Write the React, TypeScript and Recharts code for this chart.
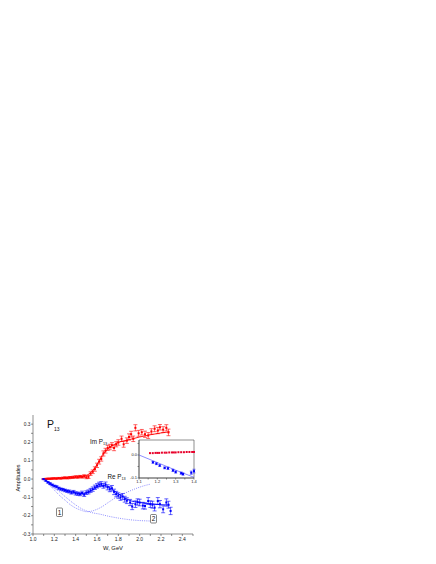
import { ComposedChart, Line, Scatter, ErrorBar, XAxis, YAxis, ReferenceArea } from 'recharts';

// Im P13 data points (W in GeV)
const imW = [
  1.10, 1.12, 1.14, 1.16, 1.18, 1.20, 1.22, 1.24, 1.26, 1.28,
  1.30, 1.32, 1.34, 1.36, 1.38, 1.40, 1.42, 1.44, 1.46, 1.48,
  1.50, 1.52, 1.54, 1.56, 1.58, 1.60, 1.62, 1.64, 1.66, 1.68,
  1.70, 1.72, 1.74, 1.76, 1.78, 1.80,
  1.83, 1.85, 1.88, 1.90, 1.92, 1.94, 1.96, 1.99, 2.02, 2.05,
  2.08, 2.11, 2.14, 2.17, 2.19, 2.22, 2.25, 2.27,
];
const imVal = [
  0, 0.001, 0.002, 0.002, 0.003, 0.004, 0.003, 0.005, 0.004, 0.006,
  0.007, 0.006, 0.008, 0.009, 0.01, 0.012, 0.011, 0.014, 0.012, 0.016,
  0.01, 0.012, 0.03, 0.04, 0.055, 0.075, 0.095, 0.11, 0.14, 0.155,
  0.17, 0.175, 0.185, 0.17, 0.19, 0.2,
  0.22, 0.19, 0.21, 0.23, 0.245, 0.22, 0.28, 0.25, 0.256, 0.245,
  0.238, 0.26, 0.275, 0.265, 0.283, 0.27, 0.28, 0.255,
];
const imErr = [
  0.002, 0.003, 0.003, 0.003, 0.004, 0.003, 0.004, 0.004, 0.004, 0.005,
  0.005, 0.005, 0.006, 0.005, 0.006, 0.006, 0.007, 0.006, 0.007, 0.008,
  0.008, 0.009, 0.01, 0.01, 0.012, 0.012, 0.013, 0.012, 0.014, 0.013,
  0.014, 0.015, 0.014, 0.015, 0.014, 0.015,
  0.015, 0.016, 0.015, 0.017, 0.016, 0.015, 0.017, 0.016, 0.015, 0.017,
  0.016, 0.015, 0.016, 0.017, 0.015, 0.016, 0.017, 0.018,
];

// Re P13 data points
const reW = [
  1.10, 1.12, 1.14, 1.16, 1.18, 1.20, 1.22, 1.24, 1.26, 1.28,
  1.30, 1.32, 1.34, 1.36, 1.38, 1.40, 1.42, 1.44, 1.46, 1.48,
  1.50, 1.52, 1.54, 1.56, 1.58, 1.60, 1.62, 1.64, 1.66, 1.68,
  1.70, 1.72, 1.74, 1.76, 1.78, 1.80, 1.82, 1.84, 1.86, 1.88,
  1.91, 1.93, 1.96, 1.98, 2.00, 2.03, 2.05, 2.08, 2.10, 2.12,
  2.14, 2.17, 2.19, 2.22, 2.25, 2.27, 2.29,
];
const reVal = [
  0, -0.008, -0.018, -0.025, -0.032, -0.038, -0.042, -0.05, -0.055, -0.058,
  -0.062, -0.066, -0.068, -0.074, -0.07, -0.078, -0.08, -0.082, -0.076, -0.085,
  -0.074, -0.07, -0.062, -0.055, -0.045, -0.037, -0.03, -0.027, -0.037, -0.03,
  -0.045, -0.055, -0.05, -0.07, -0.082, -0.09, -0.1, -0.095, -0.11, -0.118,
  -0.128, -0.15, -0.137, -0.125, -0.128, -0.145, -0.147, -0.12, -0.137, -0.14,
  -0.156, -0.12, -0.137, -0.165, -0.128, -0.14, -0.174,
];
const reErr = [
  0.003, 0.004, 0.004, 0.005, 0.005, 0.005, 0.006, 0.006, 0.006, 0.007,
  0.007, 0.007, 0.008, 0.008, 0.008, 0.009, 0.009, 0.009, 0.01, 0.01,
  0.01, 0.011, 0.011, 0.012, 0.012, 0.012, 0.013, 0.013, 0.013, 0.014,
  0.014, 0.014, 0.015, 0.015, 0.015, 0.015, 0.016, 0.016, 0.016, 0.016,
  0.017, 0.017, 0.018, 0.017, 0.018, 0.018, 0.017, 0.019, 0.018, 0.019,
  0.018, 0.019, 0.02, 0.019, 0.02, 0.019, 0.02,
];

// fitted curves
const fitW = [1.1, 1.2, 1.3, 1.4, 1.45, 1.5, 1.55, 1.6, 1.65, 1.7, 1.75, 1.8, 1.9, 2.0, 2.1, 2.2, 2.28];
const imFit = [0, 0.002, 0.005, 0.01, 0.013, 0.02, 0.04, 0.08, 0.13, 0.165, 0.185, 0.2, 0.215, 0.23, 0.242, 0.252, 0.258];
const reFit = [0, -0.035, -0.058, -0.075, -0.08, -0.076, -0.062, -0.045, -0.035, -0.04, -0.06, -0.08, -0.115, -0.128, -0.135, -0.14, -0.142];

// model curves 1 and 2 (dotted)
const curve1W = [1.1, 1.15, 1.2, 1.25, 1.3, 1.35, 1.4, 1.45, 1.5, 1.55, 1.6, 1.65, 1.7, 1.78, 1.85, 1.95, 2.05, 2.1];
const curve1 = [0, -0.03, -0.06, -0.09, -0.115, -0.14, -0.158, -0.17, -0.178, -0.175, -0.165, -0.15, -0.13, -0.1, -0.08, -0.055, -0.035, -0.028];
const curve2W = [1.1, 1.15, 1.2, 1.25, 1.3, 1.39, 1.45, 1.55, 1.63, 1.7, 1.8, 1.94, 2.1];
const curve2 = [0, -0.025, -0.05, -0.07, -0.095, -0.137, -0.16, -0.183, -0.192, -0.202, -0.213, -0.224, -0.229];

// inset (W 1.1 - 1.4)
const insetImW = [1.16, 1.175, 1.19, 1.2, 1.21, 1.225, 1.24, 1.25, 1.265, 1.28, 1.29, 1.3, 1.315, 1.33, 1.345, 1.36, 1.375, 1.39, 1.4];
const insetIm = [0.008, 0.008, 0.009, 0.009, 0.009, 0.01, 0.01, 0.01, 0.011, 0.011, 0.011, 0.011, 0.012, 0.012, 0.012, 0.013, 0.013, 0.013, 0.013];
const insetReW = [1.176, 1.195, 1.213, 1.24, 1.258, 1.285, 1.30, 1.33, 1.34, 1.385, 1.4];
const insetRe = [-0.032, -0.038, -0.046, -0.056, -0.058, -0.067, -0.074, -0.079, -0.083, -0.077, -0.07];
const insetReErr = [0.004, 0.004, 0.004, 0.004, 0.005, 0.005, 0.005, 0.005, 0.005, 0.007, 0.008];
const insetLineW = [1.1, 1.2, 1.3, 1.4];
const insetLine = [0, -0.033, -0.066, -0.097];

const xTicks = [1.0, 1.1, 1.2, 1.3, 1.4, 1.5, 1.6, 1.7, 1.8, 1.9, 2.0, 2.1, 2.2, 2.3, 2.4, 2.5];
const xLabels = [1.0, 1.2, 1.4, 1.6, 1.8, 2.0, 2.2, 2.4];
const yTicks = [-0.3, -0.25, -0.2, -0.15, -0.1, -0.05, 0, 0.05, 0.1, 0.15, 0.2, 0.25, 0.3];
const yLabels = [-0.3, -0.2, -0.1, 0, 0.1, 0.2, 0.3];
const insetXTicks = [1.1, 1.15, 1.2, 1.25, 1.3, 1.35, 1.4];
const insetXLabels = [1.1, 1.2, 1.3, 1.4];
const insetYTicks = [-0.1, -0.05, 0, 0.05];
const insetYLabels = [-0.1, 0];

const FONT = '"Liberation Sans", Arial, sans-serif';
const RED = '#ff0000';
const BLUE = '#0000ff';
const DOTTED = '#7070ff';
const AXIS = '#444';

const pts = (xs: number[], ys: number[], es?: number[]) =>
  xs.map((x, i) => ({ x, y: ys[i], err: es ? es[i] : 0 }));

const square = (color: string, s: number) => (props: any) =>
  <rect x={props.cx - s / 2} y={props.cy - s / 2} width={s} height={s} fill={color} />;

const makeTick = (labels: number[], size: number, vertical: boolean) => (props: any) => {
  const v = props.payload.value;
  if (!labels.some((l) => Math.abs(l - v) < 1e-6)) return <g />;
  return (
    <text
      x={props.x}
      y={props.y}
      dy={vertical ? '0.35em' : '0.8em'}
      textAnchor={vertical ? 'end' : 'middle'}
      fontSize={size}
      fontFamily={FONT}
      fill="#222"
    >
      {v.toFixed(1)}
    </text>
  );
};

function MainChart() {
  return (
    <ComposedChart width={436} height={564} margin={{ top: 415, right: 243, bottom: 10, left: 13 }}>
      <XAxis
        dataKey="x" type="number" domain={[1.0, 2.5]} ticks={xTicks} height={20}
        stroke={AXIS} strokeWidth={0.6} tickSize={2} tickMargin={1}
        tick={makeTick(xLabels, 5, false)} interval={0}
      />
      <YAxis
        dataKey="y" type="number" domain={[-0.3, 0.35]} ticks={yTicks} width={20}
        stroke={AXIS} strokeWidth={0.6} tickSize={2} tickMargin={0.5}
        tick={makeTick(yLabels, 4.8, true)} interval={0}
      />
      <Line data={pts(curve1W, curve1)} dataKey="y" type="monotone" stroke={DOTTED} strokeWidth={0.8}
        strokeDasharray="1 1.2" dot={false} isAnimationActive={false} />
      <Line data={pts(curve2W, curve2)} dataKey="y" type="monotone" stroke={DOTTED} strokeWidth={0.8}
        strokeDasharray="1 1.2" dot={false} isAnimationActive={false} />
      <Scatter data={pts(imW, imVal, imErr)} dataKey="y" fill={RED} shape={square(RED, 2)} isAnimationActive={false}>
        <ErrorBar dataKey="err" direction="y" width={2} stroke={RED} strokeWidth={0.6} />
      </Scatter>
      <Scatter data={pts(reW, reVal, reErr)} dataKey="y" fill={BLUE} shape={square(BLUE, 2)} isAnimationActive={false}>
        <ErrorBar dataKey="err" direction="y" width={2} stroke={BLUE} strokeWidth={0.6} />
      </Scatter>
      <Line data={pts(fitW, imFit)} dataKey="y" type="monotone" stroke={RED} strokeWidth={0.9}
        dot={false} isAnimationActive={false} />
      <Line data={pts(fitW, reFit)} dataKey="y" type="monotone" stroke={BLUE} strokeWidth={0.9}
        dot={false} isAnimationActive={false} />
    </ComposedChart>
  );
}

function InsetChart() {
  return (
    <ComposedChart width={80} height={52} margin={{ top: 4, right: 5, bottom: 2, left: 0 }}>
      <XAxis
        dataKey="x" type="number" domain={[1.1, 1.4]} ticks={insetXTicks} height={8}
        stroke={AXIS} strokeWidth={0.6} tickSize={1.5} tickMargin={0.5}
        tick={makeTick(insetXLabels, 4, false)} interval={0}
      />
      <YAxis
        dataKey="y" type="number" domain={[-0.1, 0.065]} ticks={insetYTicks} width={20}
        stroke={AXIS} strokeWidth={0.6} tickSize={1.5} tickMargin={0.5}
        tick={makeTick(insetYLabels, 4, true)} interval={0}
      />
      <ReferenceArea x1={1.1} x2={1.4} y1={-0.1} y2={0.065} fill="#fff" fillOpacity={0.85}
        stroke={AXIS} strokeWidth={0.6} />
      <Line data={pts(insetLineW, insetLine)} dataKey="y" type="linear" stroke={DOTTED} strokeWidth={0.8}
        dot={false} isAnimationActive={false} />
      <Scatter data={pts(insetImW, insetIm)} dataKey="y" fill={RED} shape={square('#e8002a', 2)} isAnimationActive={false} />
      <Scatter data={pts(insetReW, insetRe, insetReErr)} dataKey="y" fill={BLUE} shape={square(BLUE, 2)} isAnimationActive={false}>
        <ErrorBar dataKey="err" direction="y" width={1.5} stroke={BLUE} strokeWidth={0.5} />
      </Scatter>
    </ComposedChart>
  );
}

function Annotations() {
  const txt = { fontFamily: FONT, fill: '#111' };
  return (
    <svg width={436} height={564} style={{ position: 'absolute', left: 0, top: 0, pointerEvents: 'none' }}>
      <text x={47} y={428} fontSize={10.5} {...txt}>
        P<tspan fontSize={5} dy={3}>13</tspan>
      </text>
      <text x={90} y={443.5} fontSize={6.3} {...txt}>
        Im P<tspan fontSize={3.8} dy={1.8}>13</tspan>
      </text>
      <text x={107.5} y={478.5} fontSize={6.3} {...txt}>
        Re P<tspan fontSize={3.8} dy={1.8}>13</tspan>
      </text>
      <rect x={56.5} y={508} width={6} height={8.5} rx={1} fill="#fff" stroke="#333" strokeWidth={0.6} />
      <text x={59.5} y={514.8} fontSize={6.5} textAnchor="middle" {...txt}>1</text>
      <rect x={150.5} y={514.5} width={6} height={8.5} rx={1} fill="#fff" stroke="#333" strokeWidth={0.6} />
      <text x={153.5} y={521.3} fontSize={6.5} textAnchor="middle" {...txt}>2</text>
      <text x={20} y={478} fontSize={5.5} textAnchor="middle" transform="rotate(-90, 20, 478)" {...txt}>Amplitudes</text>
      <text x={113} y={550} fontSize={5.8} textAnchor="middle" {...txt}>W, GeV</text>
    </svg>
  );
}

export default function App() {
  return (
    <div style={{ position: 'absolute', left: 0, top: 0, width: 436, height: 564, background: '#fff' }}>
      <div style={{ position: 'absolute', left: 0, top: 0 }}>
        <MainChart />
      </div>
      <div style={{ position: 'absolute', left: 119, top: 436 }}>
        <InsetChart />
      </div>
      <Annotations />
    </div>
  );
}
